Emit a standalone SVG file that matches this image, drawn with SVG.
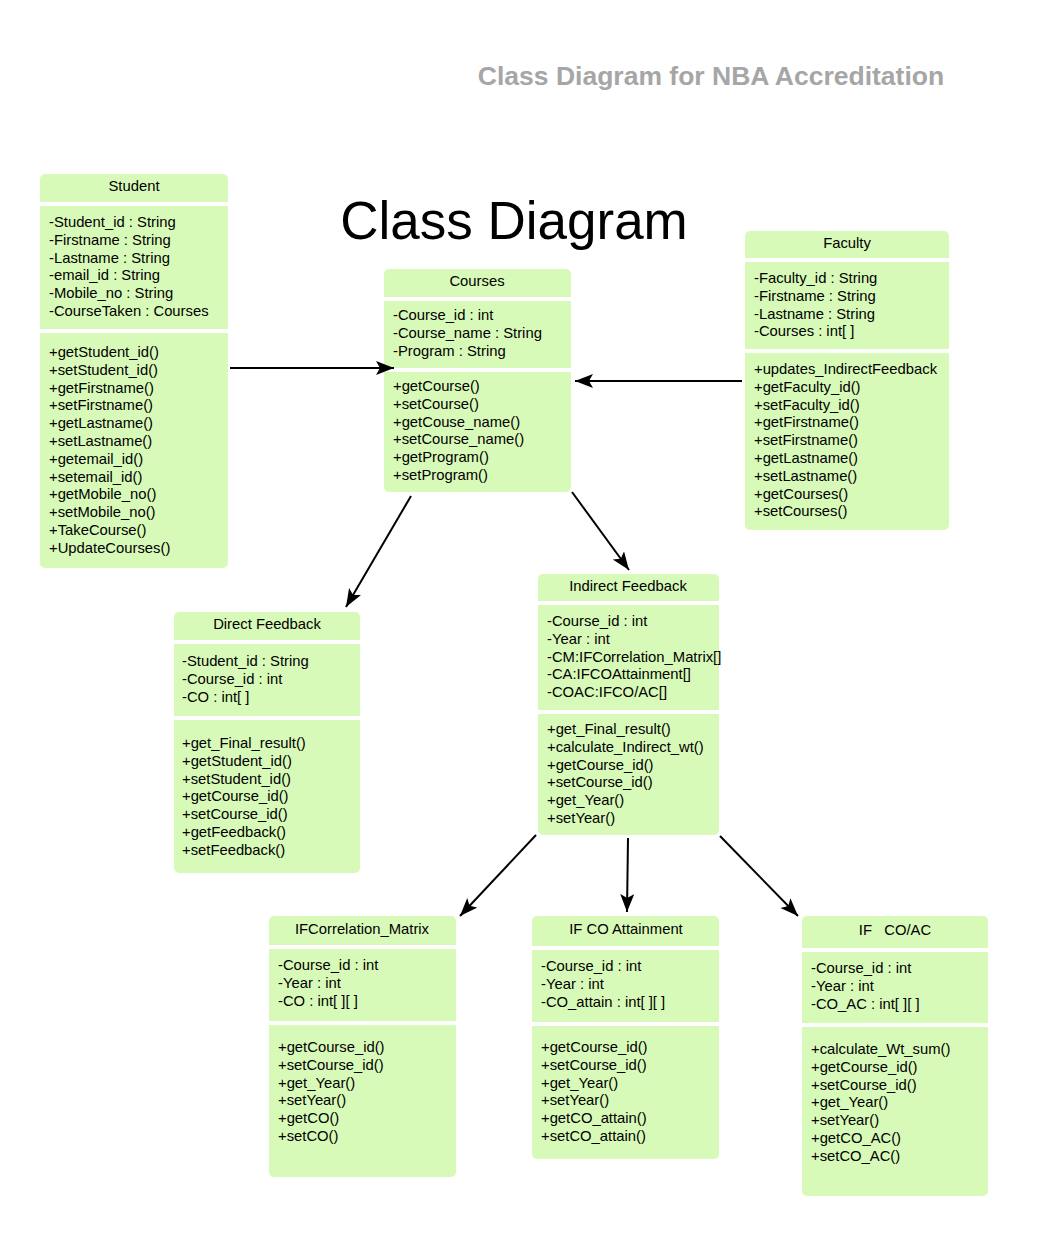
<svg xmlns="http://www.w3.org/2000/svg" width="1060" height="1238" viewBox="0 0 1060 1238">
<style>
text{font-family:"Liberation Sans",Arial,sans-serif;font-size:14.8px;fill:#000}
.box{fill:#d8fab8}
.sep{fill:#fff}
.ttl{text-anchor:middle}
.conn{stroke:#000;stroke-width:2;fill:none;marker-end:url(#arr)}
</style>
<defs>
<marker id="arr" markerUnits="userSpaceOnUse" markerWidth="20" markerHeight="16" refX="18" refY="7" orient="auto">
<path d="M0,0 L18,7 L0,14 L4,7 z" fill="#000"/>
</marker>
</defs>
<rect width="1060" height="1238" fill="#fff"/>
<text x="711" y="85" style="font-size:26.5px;font-weight:bold;fill:#a6a6a6" text-anchor="middle">Class Diagram for NBA Accreditation</text>
<text x="514" y="239" style="font-size:53px" text-anchor="middle">Class Diagram</text>

<g id="student">
<rect class="box" x="40" y="174" width="188" height="394" rx="5"/>
<rect class="sep" x="40" y="202" width="188" height="4"/>
<rect class="sep" x="40" y="329" width="188" height="4"/>
<text class="ttl" x="134" y="191">Student</text>
<text x="49" y="227"><tspan x="49">-Student_id : String</tspan><tspan x="49" dy="17.8">-Firstname : String</tspan><tspan x="49" dy="17.8">-Lastname : String</tspan><tspan x="49" dy="17.8">-email_id : String</tspan><tspan x="49" dy="17.8">-Mobile_no : String</tspan><tspan x="49" dy="17.8">-CourseTaken : Courses</tspan></text>
<text x="49" y="357"><tspan x="49">+getStudent_id()</tspan><tspan x="49" dy="17.8">+setStudent_id()</tspan><tspan x="49" dy="17.8">+getFirstname()</tspan><tspan x="49" dy="17.8">+setFirstname()</tspan><tspan x="49" dy="17.8">+getLastname()</tspan><tspan x="49" dy="17.8">+setLastname()</tspan><tspan x="49" dy="17.8">+getemail_id()</tspan><tspan x="49" dy="17.8">+setemail_id()</tspan><tspan x="49" dy="17.8">+getMobile_no()</tspan><tspan x="49" dy="17.8">+setMobile_no()</tspan><tspan x="49" dy="17.8">+TakeCourse()</tspan><tspan x="49" dy="17.8">+UpdateCourses()</tspan></text>
</g>

<g id="courses">
<rect class="box" x="384" y="269" width="187" height="223" rx="5"/>
<rect class="sep" x="384" y="297" width="187" height="4"/>
<rect class="sep" x="384" y="368" width="187" height="4"/>
<text class="ttl" x="477" y="286">Courses</text>
<text x="393" y="320"><tspan x="393">-Course_id : int</tspan><tspan x="393" dy="17.8">-Course_name : String</tspan><tspan x="393" dy="17.8">-Program : String</tspan></text>
<text x="393" y="391"><tspan x="393">+getCourse()</tspan><tspan x="393" dy="17.8">+setCourse()</tspan><tspan x="393" dy="17.8">+getCouse_name()</tspan><tspan x="393" dy="17.8">+setCourse_name()</tspan><tspan x="393" dy="17.8">+getProgram()</tspan><tspan x="393" dy="17.8">+setProgram()</tspan></text>
</g>

<g id="faculty">
<rect class="box" x="745" y="231" width="204" height="299" rx="5"/>
<rect class="sep" x="745" y="258" width="204" height="4"/>
<rect class="sep" x="745" y="349" width="204" height="4"/>
<text class="ttl" x="847" y="248">Faculty</text>
<text x="754" y="283"><tspan x="754">-Faculty_id : String</tspan><tspan x="754" dy="17.8">-Firstname : String</tspan><tspan x="754" dy="17.8">-Lastname : String</tspan><tspan x="754" dy="17.8">-Courses : int[ ]</tspan></text>
<text x="754" y="374"><tspan x="754">+updates_IndirectFeedback</tspan><tspan x="754" dy="17.8">+getFaculty_id()</tspan><tspan x="754" dy="17.8">+setFaculty_id()</tspan><tspan x="754" dy="17.8">+getFirstname()</tspan><tspan x="754" dy="17.8">+setFirstname()</tspan><tspan x="754" dy="17.8">+getLastname()</tspan><tspan x="754" dy="17.8">+setLastname()</tspan><tspan x="754" dy="17.8">+getCourses()</tspan><tspan x="754" dy="17.8">+setCourses()</tspan></text>
</g>

<g id="direct-feedback">
<rect class="box" x="174" y="612" width="186" height="261" rx="5"/>
<rect class="sep" x="174" y="640" width="186" height="4"/>
<rect class="sep" x="174" y="716" width="186" height="4"/>
<text class="ttl" x="267" y="629">Direct Feedback</text>
<text x="182" y="666"><tspan x="182">-Student_id : String</tspan><tspan x="182" dy="17.8">-Course_id : int</tspan><tspan x="182" dy="17.8">-CO : int[ ]</tspan></text>
<text x="182" y="748"><tspan x="182">+get_Final_result()</tspan><tspan x="182" dy="17.8">+getStudent_id()</tspan><tspan x="182" dy="17.8">+setStudent_id()</tspan><tspan x="182" dy="17.8">+getCourse_id()</tspan><tspan x="182" dy="17.8">+setCourse_id()</tspan><tspan x="182" dy="17.8">+getFeedback()</tspan><tspan x="182" dy="17.8">+setFeedback()</tspan></text>
</g>

<g id="indirect-feedback">
<rect class="box" x="538" y="574" width="181" height="261" rx="5"/>
<rect class="sep" x="538" y="601" width="181" height="4"/>
<rect class="sep" x="538" y="710" width="181" height="4"/>
<text class="ttl" x="628" y="591">Indirect Feedback</text>
<text x="547" y="626"><tspan x="547">-Course_id : int</tspan><tspan x="547" dy="17.8">-Year : int</tspan><tspan x="547" dy="17.8">-CM:IFCorrelation_Matrix[]</tspan><tspan x="547" dy="17.8">-CA:IFCOAttainment[]</tspan><tspan x="547" dy="17.8">-COAC:IFCO/AC[]</tspan></text>
<text x="547" y="734"><tspan x="547">+get_Final_result()</tspan><tspan x="547" dy="17.8">+calculate_Indirect_wt()</tspan><tspan x="547" dy="17.8">+getCourse_id()</tspan><tspan x="547" dy="17.8">+setCourse_id()</tspan><tspan x="547" dy="17.8">+get_Year()</tspan><tspan x="547" dy="17.8">+setYear()</tspan></text>
</g>

<g id="ifcorrelation-matrix">
<rect class="box" x="269" y="916" width="187" height="261" rx="5"/>
<rect class="sep" x="269" y="945" width="187" height="4"/>
<rect class="sep" x="269" y="1021" width="187" height="4"/>
<text class="ttl" x="362" y="934">IFCorrelation_Matrix</text>
<text x="278" y="970"><tspan x="278">-Course_id : int</tspan><tspan x="278" dy="17.8">-Year : int</tspan><tspan x="278" dy="17.8">-CO : int[ ][ ]</tspan></text>
<text x="278" y="1052"><tspan x="278">+getCourse_id()</tspan><tspan x="278" dy="17.8">+setCourse_id()</tspan><tspan x="278" dy="17.8">+get_Year()</tspan><tspan x="278" dy="17.8">+setYear()</tspan><tspan x="278" dy="17.8">+getCO()</tspan><tspan x="278" dy="17.8">+setCO()</tspan></text>
</g>

<g id="if-co-attainment">
<rect class="box" x="532" y="916" width="187" height="243" rx="5"/>
<rect class="sep" x="532" y="946" width="187" height="4"/>
<rect class="sep" x="532" y="1022" width="187" height="4"/>
<text class="ttl" x="626" y="934">IF CO Attainment</text>
<text x="541" y="971"><tspan x="541">-Course_id : int</tspan><tspan x="541" dy="17.8">-Year : int</tspan><tspan x="541" dy="17.8">-CO_attain : int[ ][ ]</tspan></text>
<text x="541" y="1052"><tspan x="541">+getCourse_id()</tspan><tspan x="541" dy="17.8">+setCourse_id()</tspan><tspan x="541" dy="17.8">+get_Year()</tspan><tspan x="541" dy="17.8">+setYear()</tspan><tspan x="541" dy="17.8">+getCO_attain()</tspan><tspan x="541" dy="17.8">+setCO_attain()</tspan></text>
</g>

<g id="if-co-ac">
<rect class="box" x="802" y="916" width="186" height="280" rx="5"/>
<rect class="sep" x="802" y="948" width="186" height="4"/>
<rect class="sep" x="802" y="1023" width="186" height="4"/>
<text class="ttl" x="895" y="935" xml:space="preserve">IF   CO/AC</text>
<text x="811" y="973"><tspan x="811">-Course_id : int</tspan><tspan x="811" dy="17.8">-Year : int</tspan><tspan x="811" dy="17.8">-CO_AC : int[ ][ ]</tspan></text>
<text x="811" y="1054"><tspan x="811">+calculate_Wt_sum()</tspan><tspan x="811" dy="17.8">+getCourse_id()</tspan><tspan x="811" dy="17.8">+setCourse_id()</tspan><tspan x="811" dy="17.8">+get_Year()</tspan><tspan x="811" dy="17.8">+setYear()</tspan><tspan x="811" dy="17.8">+getCO_AC()</tspan><tspan x="811" dy="17.8">+setCO_AC()</tspan></text>
</g>

<g id="connectors">
<line class="conn" x1="230" y1="368" x2="394" y2="368"/>
<line class="conn" x1="742" y1="381" x2="575" y2="381"/>
<line class="conn" x1="411" y1="496" x2="346" y2="607"/>
<line class="conn" x1="572" y1="492" x2="629" y2="570"/>
<line class="conn" x1="536" y1="835" x2="460" y2="916"/>
<line class="conn" x1="628" y1="838" x2="627" y2="912"/>
<line class="conn" x1="720" y1="836" x2="798" y2="916"/>
</g>
</svg>
